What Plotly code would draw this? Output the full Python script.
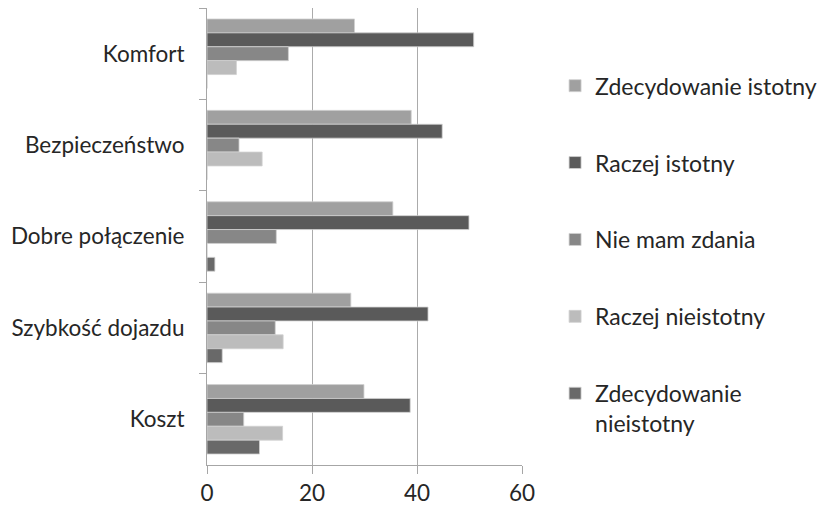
import plotly.graph_objects as go

categories = ["Komfort", "Bezpieczeństwo", "Dobre połączenie", "Szybkość dojazdu", "Koszt"]
series_names = ["Zdecydowanie istotny", "Raczej istotny", "Nie mam zdania",
                "Raczej nieistotny", "Zdecydowanie<br>nieistotny"]
zdecydowanie_istotny = [28.1, 38.9, 35.4, 27.4, 29.9]
raczej_istotny = [50.8, 44.8, 49.9, 42.1, 38.7]
nie_mam_zdania = [15.5, 6.1, 13.2, 13.0, 7.0]
raczej_nieistotny = [5.6, 10.5, 0.0, 14.5, 14.4]
zdecydowanie_nieistotny = [0.0, 0.0, 1.5, 2.9, 10.0]
x_ticks = [0, 20, 40, 60]

values = [zdecydowanie_istotny, raczej_istotny, nie_mam_zdania,
          raczej_nieistotny, zdecydowanie_nieistotny]
colors = ["#a0a0a0", "#5a5a5a", "#878787", "#bcbcbc", "#696969"]

fig = go.Figure()
for i, (name, vals, col) in enumerate(zip(series_names, values, colors)):
    fig.add_trace(go.Bar(
        y=categories, x=vals, name=name, orientation="h",
        marker=dict(color=col, line=dict(color="#d0d0d0", width=0.8)),
        legendgroup=f"g{i}",
    ))

font = "Lato"
fs = 22.5
fig.update_layout(
    width=821, height=507,
    margin=dict(l=207, r=299, t=8, b=42, autoexpand=False),
    paper_bgcolor="white", plot_bgcolor="white",
    barmode="group", bargap=0.24, bargroupgap=0,
    font=dict(family=font, size=fs, color="#262626"),
    showlegend=True,
    legend=dict(x=1.105, xanchor="left", y=0.877, yanchor="top",
                traceorder="grouped", tracegroupgap=44, valign="top",
                font=dict(family=font, size=23, color="#262626"),
                itemwidth=30),
    xaxis=dict(range=[0, 60], tickvals=x_ticks, showgrid=True, automargin=False,
               gridcolor="#ababab", gridwidth=1, zeroline=False,
               showline=True, linecolor="#a6a6a6", linewidth=1,
               ticks="outside", ticklen=8, tickcolor="#a6a6a6",
               tickfont=dict(size=fs)),
    yaxis=dict(autorange="reversed", showgrid=False, showline=True, automargin=False,
               linecolor="#a6a6a6", linewidth=1, ticks="outside",
               tickson="boundaries", ticklen=7, tickcolor="#a6a6a6",
               ticklabelstandoff=17, tickfont=dict(size=fs)),
)

fig.write_html("out.html", config={"displayModeBar": False},
               post_script="document.body.style.margin='0';")
